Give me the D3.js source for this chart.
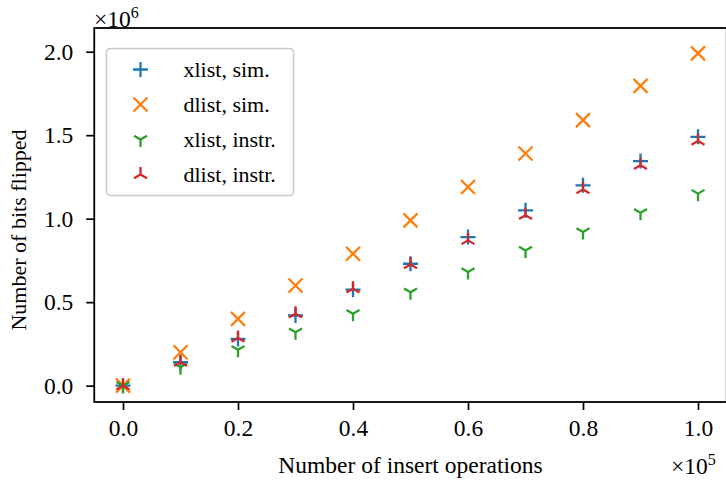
<!DOCTYPE html>
<html>
<head>
<meta charset="utf-8">
<script src="https://cdn.jsdelivr.net/npm/d3@7"></script>
<style>
  body { margin: 0; background: #fff; }
  svg { font-family: "Liberation Serif", serif; }
</style>
</head>
<body>
<svg id="chart" width="726" height="480"></svg>
<script>
// insert operations (x 1e5)
const ops = [0, 0.1, 0.2, 0.3, 0.4, 0.5, 0.6, 0.7, 0.8, 0.9, 1.0]
// bits flipped (x 1e6)
const xlistSim = [0, 0.14, 0.28, 0.42, 0.575, 0.73, 0.89, 1.05, 1.20, 1.345, 1.49]
const dlistSim = [0, 0.20, 0.40, 0.60, 0.79, 0.99, 1.19, 1.39, 1.59, 1.795, 1.99]
const xlistInstr = [0, 0.11, 0.215, 0.32, 0.43, 0.56, 0.68, 0.81, 0.92, 1.035, 1.15]
const dlistInstr = [0, 0.14, 0.285, 0.43, 0.58, 0.725, 0.87, 1.02, 1.175, 1.32, 1.465]
const xTicks = [0, 0.2, 0.4, 0.6, 0.8, 1.0]
const yTicks = [0, 0.5, 1.0, 1.5, 2.0]

const series = [
  { name: 'xlist, sim.', values: xlistSim, color: '#1f77b4', marker: 'plus' },
  { name: 'dlist, sim.', values: dlistSim, color: '#ff7f0e', marker: 'x' },
  { name: 'xlist, instr.', values: xlistInstr, color: '#2ca02c', marker: 'tri_down' },
  { name: 'dlist, instr.', values: dlistInstr, color: '#d62728', marker: 'tri_up' }
]

let svg = d3.select('#chart')
let plotLeft = 94.25, plotRight = 726.75, plotTop = 28, plotBottom = 402
let fontSize = 23.5

let x = d3.scaleLinear().domain([-0.05, 1.05]).range([plotLeft, plotRight])
let y = d3.scaleLinear().domain([-0.098, 2.142]).range([plotBottom, plotTop])

function markerPath(type, s) {
  if (type === 'plus') return `M${-s},0H${s}M0,${-s}V${s}`
  if (type === 'x') return `M${-s},${-s}L${s},${s}M${-s},${s}L${s},${-s}`
  let c = s * 0.866, h = s * 0.5
  if (type === 'tri_down') return `M0,0V${s}M0,0L${-c},${-h}M0,0L${c},${-h}`
  return `M0,0V${-s}M0,0L${-c},${h}M0,0L${c},${h}`
}
let markerSize = { plus: 7.5, x: 7, tri_down: 7.5, tri_up: 7.5 }

// axes
let xAxis = svg.append('g')
  .attr('transform', `translate(0,${plotBottom})`)
  .call(d3.axisBottom(x).tickValues(xTicks).tickFormat(d3.format('.1f')).tickSize(8).tickPadding(9))
let yAxis = svg.append('g')
  .attr('transform', `translate(${plotLeft},0)`)
  .call(d3.axisLeft(y).tickValues(yTicks).tickFormat(d3.format('.1f')).tickSize(8).tickPadding(13))

for (let ax of [xAxis, yAxis]) {
  ax.select('.domain').remove()
  ax.selectAll('line').attr('stroke', '#000').attr('stroke-width', 1.7)
  ax.selectAll('text').attr('font-size', fontSize).attr('fill', '#000')
    .attr('font-family', '"Liberation Serif", serif')
}

// markers
let plot = svg.append('g')
series.forEach(s => {
  plot.append('g').selectAll('path')
    .data(ops.map((o, i) => [o, s.values[i]]))
    .enter().append('path')
    .attr('transform', d => `translate(${x(d[0])},${y(d[1])})`)
    .attr('d', markerPath(s.marker, markerSize[s.marker]))
    .attr('fill', 'none')
    .attr('stroke', s.color)
    .attr('stroke-width', 2.3)
})

// spines
svg.append('rect')
  .attr('x', plotLeft).attr('y', plotTop)
  .attr('width', plotRight - plotLeft).attr('height', plotBottom - plotTop)
  .attr('fill', 'none').attr('stroke', '#000').attr('stroke-width', 1.8)

// legend
let legend = svg.append('g').attr('transform', 'translate(106.5,48.5)')
legend.append('rect')
  .attr('width', 187).attr('height', 147).attr('rx', 4)
  .attr('fill', 'rgba(255,255,255,0.8)').attr('stroke', '#ccc').attr('stroke-width', 1.6)
series.forEach((s, i) => {
  let row = legend.append('g').attr('transform', `translate(0,${21 + i * 35})`)
  row.append('path')
    .attr('transform', 'translate(34,0)')
    .attr('d', markerPath(s.marker, markerSize[s.marker]))
    .attr('fill', 'none').attr('stroke', s.color).attr('stroke-width', 2.3)
  row.append('text').attr('x', 77).attr('dy', '0.35em')
    .attr('font-size', 22).text(s.name)
})

// labels
svg.append('text').attr('x', (plotLeft + plotRight) / 2).attr('y', 473)
  .attr('text-anchor', 'middle').attr('font-size', 23.5).text('Number of insert operations')
svg.append('text').attr('transform', 'translate(26,230) rotate(-90)')
  .attr('text-anchor', 'middle').attr('font-size', 22).text('Number of bits flipped')

// offset text
let offY = svg.append('text').attr('x', 94).attr('y', 27).attr('font-size', fontSize)
offY.append('tspan').text('×10')
offY.append('tspan').attr('font-size', 16).attr('dy', -9).text('6')
let offX = svg.append('text').attr('x', 671).attr('y', 474).attr('font-size', fontSize)
offX.append('tspan').text('×10')
offX.append('tspan').attr('font-size', 16).attr('dy', -9).text('5')
</script>
</body>
</html>
